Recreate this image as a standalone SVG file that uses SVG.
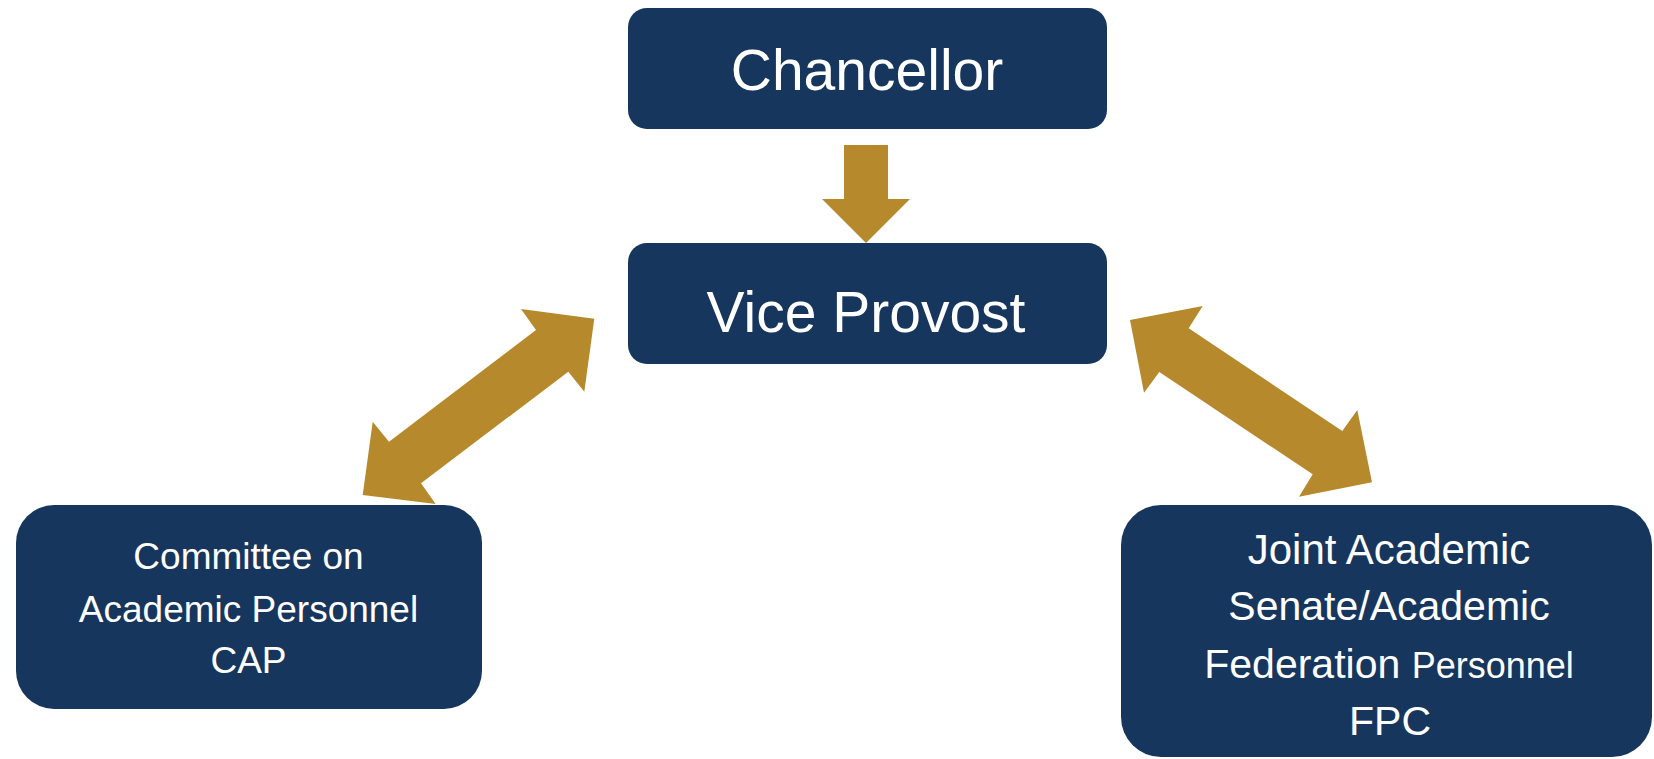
<svg xmlns="http://www.w3.org/2000/svg" width="1654" height="759" viewBox="0 0 1654 759">
<style>
.box{fill:#17365D;}
.arrow{fill:#B68A2C;}
.t{font-family:"Liberation Sans",Arial,sans-serif;fill:#FFFFFF;text-anchor:middle;}
</style>
<rect x="0" y="0" width="1654" height="759" fill="#FFFFFF"/>
<g id="connectors">
<polygon class="arrow" points="844,145 888,145 888,199 910,199 866,243 822,199 844,199"/>
<polygon class="arrow" points="594.3,318.7 584.3,391.7 568.3,371.7 421,483.3 435.7,504 362.7,495 372.7,421.7 389,441.7 536,330 521,309"/>
<polygon class="arrow" points="1130,320 1202.7,306 1188.7,328.3 1342.3,431 1357.3,410 1372,482.3 1299,496.7 1312.7,474.3 1159.3,372 1144,392.7"/>
</g>
<g id="chancellor">
<rect class="box" x="628" y="8" width="479" height="121" rx="19" ry="19"/>
<text class="t" x="867" y="90" font-size="57">Chancellor</text>
</g>
<g id="vice-provost">
<rect class="box" x="628" y="243" width="479" height="121" rx="19" ry="19"/>
<text class="t" x="866" y="332" font-size="57">Vice Provost</text>
</g>
<g id="cap">
<rect class="box" x="16" y="505" width="466" height="204" rx="38" ry="38"/>
<text class="t" x="248.5" y="569" font-size="37">Committee on</text>
<text class="t" x="248.5" y="622" font-size="37">Academic Personnel</text>
<text class="t" x="248.5" y="673" font-size="37">CAP</text>
</g>
<g id="fpc">
<rect class="box" x="1121" y="505" width="531" height="252" rx="40" ry="40"/>
<text class="t" x="1389" y="564" font-size="42">Joint Academic</text>
<text class="t" x="1389" y="620" font-size="41">Senate/Academic</text>
<text class="t" x="1389" y="678" font-size="41">Federation <tspan font-size="36">Personnel</tspan></text>
<text class="t" x="1390" y="735" font-size="41">FPC</text>
</g>
</svg>
